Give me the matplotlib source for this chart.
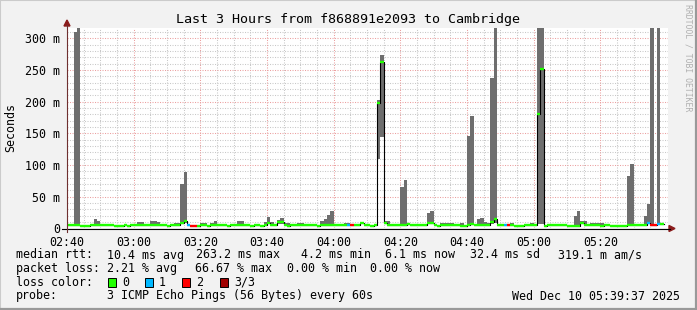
import matplotlib
matplotlib.use('Agg')
import matplotlib.pyplot as plt
from matplotlib.patches import Rectangle, Polygon
from matplotlib.lines import Line2D
import numpy as np

# ---------------- data ----------------
title = "Last 3 Hours from f868891e2093 to Cambridge"
x_tick_labels = ["02:40", "03:00", "03:20", "03:40", "04:00", "04:20", "04:40", "05:00", "05:20"]
x_tick_minutes = [0, 20, 40, 60, 80, 100, 120, 140, 160]
y_tick_values = [0, 50, 100, 150, 200, 250, 300]
y_tick_labels = ["0", "50 m", "100 m", "150 m", "200 m", "250 m", "300 m"]

# median rtt (ms) per minute starting 02:40
median_ms = [
    5.8, 5.8, 5.8, 5.8, 4.3, 4.3, 4.3, 5.8, 5.8, 5.8,   # 0-9
    5.8, 5.8, 5.8, 5.8, 4.3, 4.3, 4.3, 5.8, 4.3, 5.8,   # 10-19
    5.8, 5.8, 5.8, 5.8, 5.8, 5.8, 5.8, 5.8, 5.8, 5.8,   # 20-29
    4.3, 5.8, 5.8, 5.8, 9.0, 12.0, 5.0, 4.2, 4.2, 4.3,  # 30-39
    5.8, 5.8, 4.3, 5.8, 5.8, 5.8, 5.8, 5.8, 4.3, 5.8,   # 40-49
    5.8, 5.8, 5.8, 5.8, 5.8, 4.3, 5.8, 5.8, 4.3, 5.8,   # 50-59
    9.0, 5.8, 5.8, 10.0, 10.0, 5.8, 4.3, 5.8, 5.8, 5.8, # 60-69
    5.8, 5.8, 5.8, 5.8, 5.8, 4.3, 5.8, 5.8, 5.8, 5.8,   # 70-79
    5.8, 5.8, 5.8, 5.8, 5.0, 4.5, 5.8, 5.8, 8.0, 5.8,   # 80-89
    5.8, 4.3, 5.8, 198.0, 263.2, 8.0, 5.8, 5.8, 5.8, 5.8,  # 90-99
    5.8, 5.8, 7.0, 5.8, 5.8, 5.8, 5.8, 5.8, 8.0, 9.0,   # 100-109
    5.8, 4.3, 5.8, 5.8, 5.8, 5.8, 5.8, 5.8, 4.3, 4.3,   # 110-119
    5.8, 7.0, 5.8, 5.8, 5.8, 5.8, 5.8, 10.0, 14.0, 5.8, # 120-129
    5.8, 5.0, 4.5, 5.8, 4.3, 4.3, 4.3, 5.8, 5.8, 5.8,   # 130-139
    5.8, 180.0, 251.0, 4.3, 5.8, 5.8, 5.8, 5.8, 5.8, 5.8,  # 140-149
    4.3, 4.3, 4.3, 4.3, 8.0, 5.8, 5.8, 5.8, 5.8, 5.8,   # 150-159
    4.3, 5.8, 5.8, 4.3, 4.3, 4.3, 4.3, 4.3, 5.8, 5.8,   # 160-169
    5.8, 5.8, 5.8, 5.8, 8.0, 4.5, 4.5, 7.0, 6.1,        # 170-178
]

# minutes with lost pings and number lost (of 3)
loss_minutes = [36, 37, 38, 84, 85, 131, 132, 174, 175, 176, 177]
loss_counts = [1, 2, 2, 1, 2, 1, 2, 1, 2, 2, 1]

# smoke (min..max of the 3 pings) for minutes where it shows above the median
smoke_minutes = [2, 3, 8, 9, 21, 22, 25, 26, 27, 32, 33, 34, 35, 40, 41, 43, 44,
                 51, 52, 59, 60, 61, 63, 64, 65, 66, 69, 70, 76, 77, 78, 79, 83, 84,
                 93, 94, 95, 96, 100, 101, 108, 109, 112, 113, 114, 115, 118,
                 120, 121, 123, 124, 125, 126, 127, 128, 133, 139, 141, 142,
                 152, 153, 154, 155, 157, 158, 159, 160, 168, 169, 173, 174, 175, 177]
smoke_lo_ms = [6, 6, 6, 6, 6, 6, 6, 6, 6, 6, 6, 7, 9, 6, 6, 6, 6,
               6, 6, 6, 7, 6, 7, 7, 6, 4, 6, 6, 6, 6, 6, 6, 6, 5,
               109, 144, 6, 6, 6, 6, 6, 6, 6, 6, 6, 6, 4,
               6, 6, 6, 6, 6, 6, 6, 8, 6, 6, 7, 7,
               4, 4, 6, 6, 6, 6, 6, 4, 6, 6, 6, 6, 5, 6]
smoke_hi_ms = [310, 330, 14, 12, 9.5, 9.5, 12, 12, 9.5, 8.5, 8.5, 70, 89, 9, 9, 9, 12,
               11, 11, 10, 18, 10, 13, 17, 9, 9, 9, 9, 11, 14, 21, 28, 9, 9,
               203, 273, 11, 12, 65, 77, 24, 27, 9, 9, 9, 9, 9,
               145, 177, 14, 17, 10, 9, 237, 330, 8.5, 8.5, 330, 330,
               20, 27, 11, 11, 9, 9, 9, 9, 82, 101, 20, 39, 330, 330]

loss_colors = {0: '#20ff00', 1: '#00b8ff', 2: '#ff0000', 3: '#a00000'}

legend_rtt = [("median rtt:", 16), ("10.4 ms avg", 107), ("263.2 ms max", 196),
              ("4.2 ms min", 301), ("6.1 ms now", 385), ("32.4 ms sd", 470),
              ("319.1 m am/s", 558)]
legend_loss = [("packet loss:", 16), ("2.21 % avg", 107), ("66.67 % max", 195),
               ("0.00 % min", 287), ("0.00 % now", 370)]
probe_text = "3 ICMP Echo Pings (56 Bytes) every 60s"
date_text = "Wed Dec 10 05:39:37 2025"

# ---------------- figure ----------------
W, H, DPI = 697, 310, 100
MONO = 'DejaVu Sans Mono'
fig = plt.figure(figsize=(W / DPI, H / DPI), dpi=DPI, facecolor='#f2f2f2')


def fx(px):
    return px / W


def fy(py):
    return 1 - py / H


# frame shading
fig.add_artist(Rectangle((0, 0), 1, 1, transform=fig.transFigure, fill=False,
                         edgecolor='#cbcbcb', lw=1.5))
fig.add_artist(Line2D([fx(0), fx(697)], [fy(309)] * 2, transform=fig.transFigure,
                      color='#999999', lw=1.6))
fig.add_artist(Line2D([fx(696), fx(696)], [fy(0), fy(310)], transform=fig.transFigure,
                      color='#999999', lw=1.6))

Y_TOP = 317.0
X_END = 180.3
ax = fig.add_axes([fx(67), fy(228.3), fx(668) - fx(67), fy(27.5) - fy(228.3)])
ax.set_facecolor('white')
ax.set_xlim(0, X_END)
ax.set_ylim(0, Y_TOP)
for s in ax.spines.values():
    s.set_visible(False)

# grid
dot = (0, (1.0, 1.4))
for m in range(0, 181, 5):
    if m % 20 == 0:
        continue
    ax.axvline(m, color='#c8c8c8', lw=0.75, ls=dot, zorder=0.5)
for m in x_tick_minutes:
    ax.axvline(m, color='#eba0a0', lw=0.75, ls=dot, zorder=0.6)
for v in range(10, 320, 10):
    if v % 50 == 0:
        continue
    ax.axhline(v, color='#c8c8c8', lw=0.75, ls=dot, zorder=0.5)
for v in y_tick_values[1:]:
    ax.axhline(v, color='#eba0a0', lw=0.75, ls=dot, zorder=0.6)

# smoke
lo = np.array(smoke_lo_ms, dtype=float)
hi = np.array(smoke_hi_ms, dtype=float)
ax.bar(smoke_minutes, hi - lo, bottom=lo, width=1.0, align='edge',
       color='#6e6e6e', linewidth=0, zorder=2)

# median
med = np.array(median_ms, dtype=float)
t = np.arange(len(med))
ax.step(np.append(t, len(med)), np.append(med, med[-1]), where='post',
        color='black', lw=0.8, zorder=3)
loss = np.zeros(len(med), dtype=int)
for m, c in zip(loss_minutes, loss_counts):
    loss[m] = c
cols = [loss_colors[c] for c in loss]
ax.hlines(med, t, t + 1, colors=cols, lw=1.7, zorder=4)

# ticks
ax.set_xticks(x_tick_minutes)
ax.set_xticklabels(x_tick_labels, fontfamily=MONO, fontsize=8.4)
ax.set_yticks(y_tick_values)
ax.set_yticklabels(y_tick_labels, fontfamily=MONO, fontsize=8.4)
ax.tick_params(axis='x', length=0, pad=5.2)
ax.tick_params(axis='y', length=0, pad=5)
for lab in ax.get_yticklabels():
    lab.set_va('center_baseline')

# axis lines with arrows
fig.add_artist(Line2D([fx(62), fx(670)], [fy(228.5)] * 2, transform=fig.transFigure,
                      color='black', lw=0.8))
fig.add_artist(Polygon([[fx(669), fy(225.5)], [fx(675), fy(228.5)], [fx(669), fy(231.5)]],
                       closed=True, transform=fig.transFigure, color='#8b1c1c'))
fig.add_artist(Line2D([fx(67), fx(67)], [fy(232), fy(25)], transform=fig.transFigure,
                      color='#6f3030', lw=0.8))
fig.add_artist(Polygon([[fx(64), fy(26)], [fx(67), fy(20)], [fx(70), fy(26)]],
                       closed=True, transform=fig.transFigure, color='#8b1c1c'))

# title, y label, watermark
fig.text(0.5, fy(19.3), title, ha='center', va='center', fontfamily=MONO, fontsize=9.6)
fig.text(fx(10.5), fy(127.5), "Seconds", rotation=90, ha='center', va='center',
         fontfamily=MONO, fontsize=8.4)
fig.text(fx(688), fy(4), "RRDTOOL / TOBI OETIKER", rotation=270, ha='center', va='top',
         fontfamily=MONO, fontsize=5.9, color='#b0b0b0')

# legend
for txt, x in legend_rtt:
    fig.text(fx(x), fy(255), txt, ha='left', va='center', fontfamily=MONO, fontsize=8.4)
for txt, x in legend_loss:
    fig.text(fx(x), fy(268.3), txt, ha='left', va='center', fontfamily=MONO, fontsize=8.4)
fig.text(fx(16), fy(282.3), "loss color:", ha='left', va='center', fontfamily=MONO, fontsize=8.4)
box_x = [108, 145, 182, 220]
lab_x = [122, 159, 196, 234]
box_labels = ["0", "1", "2", "3/3"]
for k in range(4):
    fig.add_artist(Rectangle((fx(box_x[k]), fy(286.5)), fx(8), 8.5 / H,
                             transform=fig.transFigure, facecolor=loss_colors[k],
                             edgecolor='black', lw=0.7))
    fig.text(fx(lab_x[k]), fy(282.3), box_labels[k], ha='left', va='center',
             fontfamily=MONO, fontsize=8.4)
fig.text(fx(16), fy(296), "probe:", ha='left', va='center', fontfamily=MONO, fontsize=8.4)
fig.text(fx(107), fy(296), probe_text, ha='left', va='center', fontfamily=MONO, fontsize=8.4)
fig.text(fx(680), fy(296), date_text, ha='right', va='center', fontfamily=MONO, fontsize=8.4)

fig.savefig('out.png', dpi=DPI, facecolor=fig.get_facecolor())
